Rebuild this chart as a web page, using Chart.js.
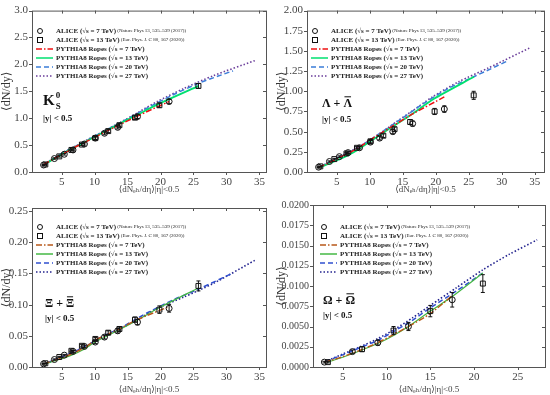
<!DOCTYPE html>
<html>
<head>
<meta charset="utf-8">
<script src="https://cdn.jsdelivr.net/npm/chart.js@4.4.0/dist/chart.umd.min.js"></script>
<style>
body { margin: 0; background: #fff; }
#wrap { position: relative; width: 550px; height: 395px; }
canvas { position: absolute; }
</style>
</head>
<body>
<div id="wrap">
<canvas id="c1" width="275" height="195" style="left:0;top:0"></canvas>
<canvas id="c2" width="275" height="195" style="left:275px;top:0"></canvas>
<canvas id="c3" width="275" height="200" style="left:0;top:195px"></canvas>
<canvas id="c4" width="275" height="200" style="left:275px;top:195px"></canvas>
</div>
<script>
// ALICE multiplicity classes
const xAlice7 = [2.26, 3.90, 5.40, 6.72, 8.45, 10.1, 11.5, 13.5, 16.5, 21.3];
const xAlice13 = [2.52, 4.64, 6.48, 8.07, 10.11, 12.06, 13.76, 16.12, 19.83, 25.75];

// K0S
const k0s7 = [0.13, 0.25, 0.33, 0.41, 0.52, 0.63, 0.72, 0.83, 1.03, 1.31];
const k0s7Err = [0.01, 0.012, 0.015, 0.018, 0.02, 0.025, 0.028, 0.03, 0.035, 0.04];
const k0s13 = [0.14, 0.29, 0.41, 0.51, 0.63, 0.76, 0.87, 1.01, 1.24, 1.60];
const k0s13Err = [0.01, 0.013, 0.016, 0.02, 0.024, 0.028, 0.03, 0.033, 0.038, 0.045];

// Lambda
const lam7 = [0.06, 0.13, 0.19, 0.24, 0.30, 0.37, 0.42, 0.50, 0.60, 0.78];
const lam7Err = [0.005, 0.008, 0.01, 0.012, 0.015, 0.02, 0.022, 0.026, 0.03, 0.04];
const lam13 = [0.07, 0.16, 0.23, 0.30, 0.38, 0.45, 0.53, 0.62, 0.75, 0.95];
const lam13Err = [0.005, 0.009, 0.011, 0.014, 0.018, 0.022, 0.026, 0.03, 0.038, 0.05];

// Xi
const xi7 = [0.005, 0.012, 0.019, 0.025, 0.033, 0.040, 0.048, 0.058, 0.072, 0.094];
const xi7Err = [0.0006, 0.001, 0.0012, 0.0015, 0.002, 0.0025, 0.003, 0.0035, 0.0045, 0.006];
const xi13 = [0.006, 0.016, 0.026, 0.034, 0.045, 0.055, 0.061, 0.076, 0.092, 0.130];
const xi13Err = [0.0006, 0.001, 0.0014, 0.0018, 0.0024, 0.003, 0.0035, 0.004, 0.006, 0.008];

// Omega
const omX7 = [2.9, 6.1, 9.0, 12.5, 17.5];
const om7 = [0.0006, 0.0019, 0.0030, 0.0050, 0.0083];
const om7Err = [0.0001, 0.0002, 0.0003, 0.0005, 0.0009];
const omX13 = [3.3, 7.2, 10.8, 15.0, 21.0];
const om13 = [0.0006, 0.0022, 0.0045, 0.0069, 0.0103];
const om13Err = [0.0001, 0.0003, 0.0005, 0.0007, 0.0011];

// PYTHIA8 Ropes model grids
const mX7 = [2.3, 4.0, 5.4, 6.7, 8.5, 10.1, 11.5, 13.5, 16.5, 21.3];
const mX13 = [2.5, 4.6, 6.5, 8.1, 10.1, 12.1, 13.8, 16.1, 19.8, 25.8];
const mX20 = [2.6, 5, 7, 9, 11, 13, 15, 18, 22, 26, 31];
const mX27 = [2.7, 5.2, 7.4, 9.5, 11.6, 14, 16.5, 19.5, 23.5, 28, 34.3];

const k0sR7 = [0.14, 0.26, 0.35, 0.44, 0.55, 0.65, 0.74, 0.86, 1.04, 1.31];
const k0sR13 = [0.15, 0.30, 0.43, 0.53, 0.66, 0.79, 0.90, 1.04, 1.27, 1.60];
const k0sR20 = [0.16, 0.34, 0.47, 0.60, 0.73, 0.86, 0.99, 1.19, 1.44, 1.66, 1.88];
const k0sR27 = [0.17, 0.36, 0.50, 0.64, 0.77, 0.93, 1.10, 1.31, 1.55, 1.79, 2.07];

const lamR7 = [0.06, 0.12, 0.18, 0.23, 0.31, 0.40, 0.47, 0.57, 0.72, 0.93];
const lamR13 = [0.06, 0.13, 0.20, 0.27, 0.38, 0.49, 0.58, 0.70, 0.91, 1.18];
const lamR20 = [0.07, 0.17, 0.25, 0.34, 0.45, 0.56, 0.67, 0.84, 1.04, 1.19, 1.38];
const lamR27 = [0.07, 0.18, 0.27, 0.37, 0.48, 0.62, 0.76, 0.93, 1.12, 1.29, 1.54];

const xiR7 = [0.005, 0.011, 0.016, 0.022, 0.031, 0.043, 0.050, 0.060, 0.076, 0.097];
const xiR13 = [0.005, 0.012, 0.019, 0.027, 0.040, 0.051, 0.060, 0.073, 0.095, 0.127];
const xiR20 = [0.006, 0.016, 0.025, 0.035, 0.048, 0.058, 0.069, 0.087, 0.108, 0.126, 0.151];
const xiR27 = [0.006, 0.017, 0.027, 0.038, 0.050, 0.062, 0.076, 0.094, 0.112, 0.134, 0.171];

const omMX7 = [2.9, 4.5, 6.1, 7.5, 9.0, 10.8, 12.5, 15.0, 17.5];
const omMX13 = [3.3, 5, 7.2, 9, 10.8, 12.5, 15, 17.5, 21];
const omMX20 = [3.0, 5, 7, 9, 11, 13, 15, 18, 21];
const omMX27 = [3.3, 5, 7, 9, 11, 13, 15, 18, 21, 24, 27.2];
const omR7 = [0.0006, 0.0011, 0.0017, 0.0023, 0.0030, 0.0040, 0.0050, 0.0066, 0.0088];
const omR13 = [0.0006, 0.0012, 0.0021, 0.0029, 0.0039, 0.0050, 0.0069, 0.0087, 0.0116];
const omR20 = [0.0007, 0.0015, 0.0024, 0.0033, 0.0045, 0.0058, 0.0073, 0.0094, 0.0116];
const omR27 = [0.0008, 0.0016, 0.0025, 0.0035, 0.0047, 0.0061, 0.0076, 0.0098, 0.0120, 0.0139, 0.0157];

const legendText = [
  ['ALICE (\u221As = 7 TeV)', ' (Nature Phys 13, 535\u2013539 (2017))'],
  ['ALICE (\u221As = 13 TeV)', ' (Eur. Phys. J. C 80, 167 (2020))'],
  ['PYTHIA8 Ropes (\u221As = 7 TeV)', ''],
  ['PYTHIA8 Ropes (\u221As = 13 TeV)', ''],
  ['PYTHIA8 Ropes (\u221As = 20 TeV)', ''],
  ['PYTHIA8 Ropes (\u221As = 27 TeV)', '']
];

const SERIF = '"Liberation Serif", "DejaVu Serif", serif';
const dashes = [[6, 2, 1.5, 2], [], [5, 3], [1.5, 2]];
const colorsTop = ['#ee1111', '#00e070', '#3b7dd8', '#6a3d9a'];
const colorsBot = ['#b8581a', '#44b844', '#3050d0', '#24248f'];

function pts(xs, ys) { return xs.map((x, i) => ({ x: x, y: ys[i] })); }

function markDs(xs, ys, errs, style) {
  return { data: pts(xs, ys), showLine: false, pointStyle: style,
    pointRadius: style === 'rect' ? 3.5 : 3, borderColor: '#111',
    backgroundColor: 'rgba(0,0,0,0)', borderWidth: 1, errs: errs };
}
function lineDs(xs, ys, color, dash, width) {
  return { data: pts(xs, ys), showLine: true, borderColor: color, backgroundColor: color,
    borderDash: dash, borderWidth: width, pointRadius: 0, tension: 0.25, fill: false };
}

function panel(id, o) {
  const colors = o.colors;
  const decor = {
    id: 'decor',
    afterDatasetsDraw(chart) {
      const ctx = chart.ctx, a = chart.chartArea;
      const xs = chart.scales.x, ys = chart.scales.y;
      ctx.save();
      // error bars
      chart.data.datasets.forEach(ds => {
        if (!ds.errs) return;
        ctx.strokeStyle = '#111'; ctx.lineWidth = 1;
        ds.data.forEach((p, i) => {
          const px = xs.getPixelForValue(p.x);
          const y1 = ys.getPixelForValue(p.y - ds.errs[i]);
          const y2 = ys.getPixelForValue(p.y + ds.errs[i]);
          ctx.beginPath();
          ctx.moveTo(px, y1); ctx.lineTo(px, y2);
          ctx.moveTo(px - 2, y1); ctx.lineTo(px + 2, y1);
          ctx.moveTo(px - 2, y2); ctx.lineTo(px + 2, y2);
          ctx.stroke();
        });
      });
      // frame and ticks
      ctx.strokeStyle = '#555'; ctx.lineWidth = 1; ctx.setLineDash([]);
      ctx.strokeRect(a.left + 0.5, a.top + 0.5, a.right - a.left, a.bottom - a.top);
      ctx.beginPath();
      xs.ticks.forEach(t => {
        const px = Math.round(xs.getPixelForValue(t.value)) + 0.5;
        ctx.moveTo(px, a.bottom); ctx.lineTo(px, a.bottom + 3);
        ctx.moveTo(px, a.top); ctx.lineTo(px, a.top + 3);
      });
      ys.ticks.forEach(t => {
        const py = Math.round(ys.getPixelForValue(t.value)) + 0.5;
        ctx.moveTo(a.left, py); ctx.lineTo(a.left - 3, py);
        ctx.moveTo(a.right, py); ctx.lineTo(a.right - 3, py);
      });
      ctx.stroke();
      // legend
      legendText.forEach((r, i) => {
        const y = o.legY + i * 9;
        const mx = a.left + o.legDx;
        ctx.setLineDash([]);
        if (i === 0) {
          ctx.strokeStyle = '#111'; ctx.beginPath(); ctx.arc(mx, y, 2.5, 0, Math.PI * 2); ctx.stroke();
        } else if (i === 1) {
          ctx.strokeStyle = '#111'; ctx.strokeRect(mx - 2.5, y - 2.5, 5, 5);
        } else {
          ctx.strokeStyle = colors[i - 2]; ctx.lineWidth = 1.5;
          ctx.setLineDash(dashes[i - 2]);
          ctx.beginPath(); ctx.moveTo(mx - 4, y); ctx.lineTo(mx + 13, y); ctx.stroke();
          ctx.lineWidth = 1;
        }
        ctx.fillStyle = '#222';
        ctx.textBaseline = 'middle';
        ctx.font = 'bold 7px ' + SERIF;
        const tx = mx + 16;
        ctx.fillText(r[0], tx, y);
        if (r[1]) {
          const w = ctx.measureText(r[0]).width;
          ctx.font = '5px ' + SERIF;
          ctx.fillText(r[1], tx + w, y);
        }
      });
      ctx.setLineDash([]);
      // particle label
      ctx.textBaseline = 'alphabetic';
      ctx.fillStyle = '#111';
      o.label(ctx);
      ctx.font = 'bold 9px ' + SERIF;
      ctx.fillText('|y| < 0.5', o.labX, o.yLabY);
      ctx.restore();
    }
  };

  const datasets = [
    markDs(o.ax7, o.a7, o.a7e, 'circle'),
    markDs(o.ax13, o.a13, o.a13e, 'rect'),
    lineDs(o.mx[0], o.m[0], colors[0], dashes[0], 1.5),
    lineDs(o.mx[1], o.m[1], colors[1], dashes[1], o.greenW),
    lineDs(o.mx[2], o.m[2], colors[2], dashes[2], 1.5),
    lineDs(o.mx[3], o.m[3], colors[3], dashes[3], 1.6)
  ];

  new Chart(document.getElementById(id), {
    type: 'scatter',
    data: { datasets: datasets },
    options: {
      responsive: false,
      animation: false,
      layout: { padding: { top: o.padTop, right: o.padRight, left: 0, bottom: 0 } },
      plugins: { legend: { display: false }, tooltip: { enabled: false } },
      scales: {
        x: {
          type: 'linear', min: o.xMin, max: o.xMax,
          afterBuildTicks: s => { s.ticks = o.xTicks.map(v => ({ value: v })); },
          afterFit: s => { s.height = o.xH; },
          grid: { display: false, drawTicks: false },
          border: { display: false },
          ticks: { font: { family: SERIF, size: 11 }, color: '#444', padding: 4, maxRotation: 0,
            callback: v => String(v) },
          title: { display: true, text: '\u27E8dN\u2091\u2095/d\u03B7\u27E9|\u03B7|<0.5', color: '#444',
            font: { family: SERIF, size: 9 }, padding: { top: 0, bottom: 0 } }
        },
        y: {
          type: 'linear', min: o.yMin, max: o.yMax,
          afterBuildTicks: s => {
            const t = [];
            for (let v = o.yMin; v <= o.yMax + 1e-9; v += o.yStep) t.push({ value: +v.toFixed(6) });
            s.ticks = t;
          },
          afterFit: s => { s.width = o.yW; },
          grid: { display: false, drawTicks: false },
          border: { display: false },
          ticks: { font: { family: SERIF, size: o.yFont }, color: '#444', padding: 4,
            callback: v => Number(v).toFixed(o.dec) },
          title: { display: true, text: '\u27E8dN/dy\u27E9', color: '#333',
            font: { family: SERIF, size: 12 }, padding: { top: 0, bottom: 0 } }
        }
      }
    },
    plugins: [decor]
  });
}

function barLabel(ctx, x, y, a, b, size) {
  ctx.font = 'bold ' + size + 'px ' + SERIF;
  const s = a + ' + ';
  ctx.fillText(s + b, x, y);
  const x0 = x + ctx.measureText(s).width;
  const w = ctx.measureText(b).width;
  ctx.strokeStyle = '#111'; ctx.lineWidth = 1;
  ctx.beginPath(); ctx.moveTo(x0 + 1, y - size * 0.85); ctx.lineTo(x0 + w - 1, y - size * 0.85); ctx.stroke();
}

panel('c1', {
  ax7: xAlice7, a7: k0s7, a7e: k0s7Err, ax13: xAlice13, a13: k0s13, a13e: k0s13Err,
  mx: [mX7, mX13, mX20, mX27], m: [k0sR7, k0sR13, k0sR20, k0sR27],
  colors: colorsTop, greenW: 1.8,
  xMin: 0.5, xMax: 36, xTicks: [5, 10, 15, 20, 25, 30, 35],
  yMin: 0, yMax: 3, yStep: 0.5, dec: 1, yFont: 11, yW: 32, xH: 23,
  padTop: 7, padRight: 9, legY: 31, legDx: 8, labX: 43, yLabY: 121,
  label: ctx => {
    ctx.font = 'bold 15px ' + SERIF;
    ctx.fillText('K', 43, 105);
    const w = ctx.measureText('K').width;
    ctx.font = 'bold 9px ' + SERIF;
    ctx.fillText('0', 43 + w + 1, 98);
    ctx.fillText('S', 43 + w + 1, 109);
  }
});

panel('c2', {
  ax7: xAlice7, a7: lam7, a7e: lam7Err, ax13: xAlice13, a13: lam13, a13e: lam13Err,
  mx: [mX7, mX13, mX20, mX27], m: [lamR7, lamR13, lamR20, lamR27],
  colors: colorsTop, greenW: 1.8,
  xMin: 0.5, xMax: 36.4, xTicks: [5, 10, 15, 20, 25, 30, 35],
  yMin: 0, yMax: 2, yStep: 0.25, dec: 2, yFont: 11, yW: 32, xH: 23,
  padTop: 7, padRight: 6, legY: 31, legDx: 8, labX: 47, yLabY: 122,
  label: ctx => barLabel(ctx, 47, 107, '\u039B', '\u039B', 12)
});

panel('c3', {
  ax7: xAlice7, a7: xi7, a7e: xi7Err, ax13: xAlice13, a13: xi13, a13e: xi13Err,
  mx: [mX7, mX13, mX20, mX27], m: [xiR7, xiR13, xiR20, xiR27],
  colors: colorsBot, greenW: 1.2,
  xMin: 0.5, xMax: 36, xTicks: [5, 10, 15, 20, 25, 30, 35],
  yMin: 0, yMax: 0.255, yStep: 0.05, dec: 2, yFont: 11, yW: 32, xH: 28,
  padTop: 13, padRight: 9, legY: 32, legDx: 8, labX: 45, yLabY: 126,
  label: ctx => barLabel(ctx, 45, 112, '\u039E', '\u039E', 12)
});

panel('c4', {
  ax7: omX7, a7: om7, a7e: om7Err, ax13: omX13, a13: om13, a13e: om13Err,
  mx: [omMX7, omMX13, omMX20, omMX27], m: [omR7, omR13, omR20, omR27],
  colors: colorsBot, greenW: 1.2,
  xMin: 1.6, xMax: 28.1, xTicks: [5, 10, 15, 20, 25],
  yMin: 0, yMax: 0.02, yStep: 0.0025, dec: 4, yFont: 10, yW: 38, xH: 28,
  padTop: 7, padRight: 5, legY: 32, legDx: 11, labX: 48, yLabY: 123,
  label: ctx => barLabel(ctx, 48, 109, '\u03A9', '\u03A9', 12)
});
</script>
</body>
</html>
